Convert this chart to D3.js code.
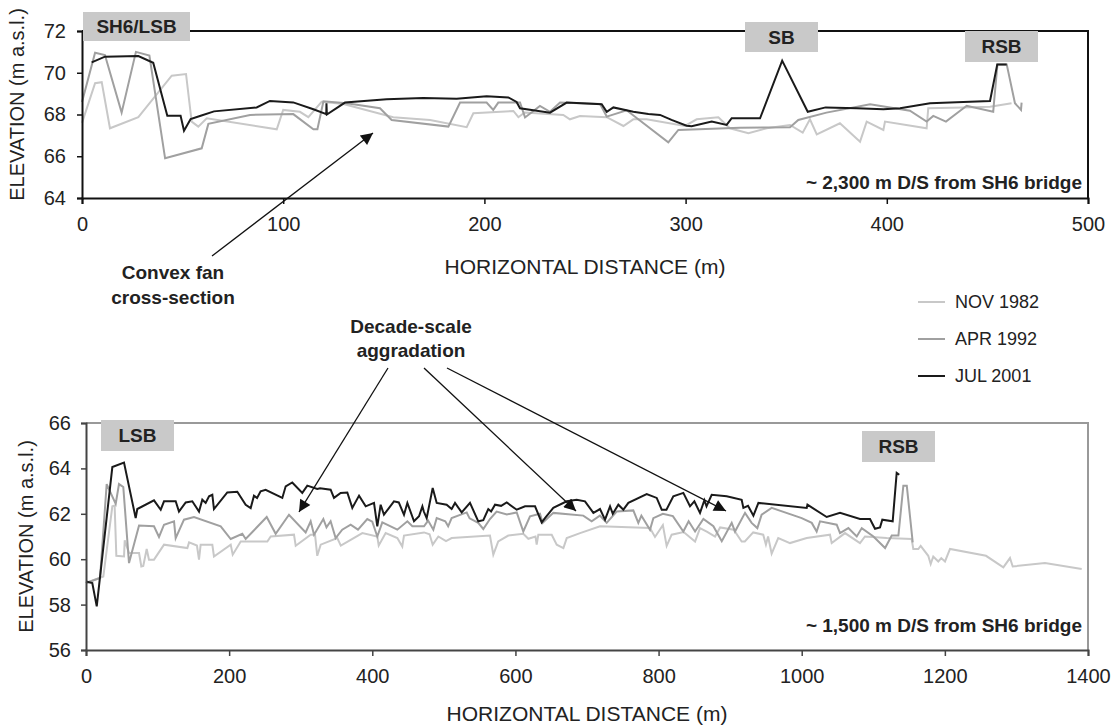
<!DOCTYPE html>
<html><head><meta charset="utf-8">
<script src="https://cdn.jsdelivr.net/npm/d3@7"></script>
<style>body{margin:0;background:#fff}svg{display:block}text{font-family:"Liberation Sans",Arial,sans-serif}</style>
</head><body><svg id="c" width="1116" height="727"></svg>
<script>
// ---------- DATA ----------
const seriesNames = ["NOV 1982", "APR 1992", "JUL 2001"];
const topXTicks = [0, 100, 200, 300, 400, 500];
const topYTicks = [64, 66, 68, 70, 72];
const botXTicks = [0, 200, 400, 600, 800, 1000, 1200, 1400];
const botYTicks = [56, 58, 60, 62, 64, 66];

// ~2,300 m D/S section: [distance m, elevation m]
const topNov = [[0,67.6],[6.5,69.5],[9.8,69.55],[13.9,67.34],[28,67.87],[44.6,69.86],[51.7,69.94],[54.5,67.66],[57.8,67.42],[62,67.82],[96.8,67.29],[100,68.22],[108.3,68.13],[112.5,67.87],[119.1,68.61],[129.9,68.5],[154.7,67.87],[173,67.74],[191.2,67.39],[194.5,68.06],[214.4,68.17],[216.9,67.87],[220,68.1],[239.2,67.98],[242.5,67.77],[247.5,67.93],[260.8,67.87],[269.1,67.45],[274,67.77],[280.6,67.77],[299.7,67.45],[305.5,67.77],[316.3,67.87],[322,67.34],[331.2,67.1],[340.3,67.34],[351.9,67.5],[358.2,67.13],[361.8,67.77],[365.2,67.05],[376.7,67.58],[386.7,66.7],[390,67.66],[398.3,67.26],[399.1,67.66],[419.8,67.34],[420.6,68.3],[438,68.33],[451.3,68.37],[462,68.54]];
const topApr = [[0,68.6],[6.5,70.96],[11.4,70.85],[19.7,68.09],[26.8,71.0],[33.5,70.82],[41.3,65.9],[59.5,66.38],[62.8,67.55],[83.5,67.98],[105,68.02],[115,67.29],[117,67.29],[120,68.63],[131.6,68.54],[148.1,68.3],[153.9,67.74],[182.1,67.42],[187.9,68.57],[201.1,68.57],[204.4,68.22],[206.9,68.57],[217.7,68.57],[220.2,67.86],[227.6,68.41],[232.6,68.13],[237.6,68.57],[257.5,68.5],[260.8,67.9],[270.7,68.2],[291.4,66.67],[296.4,67.26],[327,67.37],[351.9,67.39],[356,67.74],[370,68.09],[391.7,68.49],[411.5,68.18],[419.8,67.66],[423.1,67.93],[429.4,67.66],[439.7,68.42],[452.9,68.13],[453.3,68.6],[455,70.4],[459.6,70.4],[463.7,68.54],[466.7,68.22],[467,68.57]];
const topJul = [[4.8,70.5],[11.4,70.77],[28,70.8],[35.4,70.48],[42.4,67.94],[49,67.94],[50.7,67.22],[54,67.78],[58.6,67.93],[65.6,68.15],[86.8,68.34],[93.4,68.65],[105,68.58],[115,68.25],[121.4,68.02],[121.5,68.54],[121.7,68.0],[130.7,68.57],[151.4,68.73],[169.6,68.79],[186.2,68.76],[201.1,68.87],[211.9,68.82],[216,68.6],[217.7,68.3],[223.5,68.22],[232.6,68.09],[240.9,68.57],[258.3,68.49],[260.8,68.13],[264.1,68.34],[274,68.13],[281.5,68.02],[287.3,67.98],[293,67.74],[300.5,67.46],[303,67.44],[313,67.66],[320.4,67.5],[322.9,67.82],[337,67.82],[348,70.58],[360.7,68.13],[369.6,68.34],[385,68.3],[398.3,68.25],[406.6,68.3],[421.5,68.54],[438,68.6],[451.3,68.65],[454.9,70.4],[459.6,70.4]];

// ~1,500 m D/S section
const botNov = [[0,58.95],[24.2,59.24],[36.8,62.33],[40,62.36],[42.4,60.15],[53.1,60.12],[54.1,60.83],[60.1,60.27],[74.1,60.27],[77.3,59.68],[80,59.7],[84.8,60.45],[88,59.98],[95,59.98],[109,60.64],[141.6,60.49],[144,60.74],[155,60.6],[157.9,59.98],[160.2,60.64],[176.5,60.64],[178.8,60.12],[202.2,60.64],[205,60.2],[216.2,60.78],[253.4,60.78],[258.1,61],[290.6,61.08],[293,60.59],[313.9,61.08],[320,61.08],[323.1,60.15],[327.9,60.64],[351.1,60.93],[356,60.6],[386.1,61.15],[407,61],[409,60.6],[418.7,61.15],[435,60.93],[441.9,60.56],[444.3,61.04],[472.3,61.18],[480,61.1],[484.4,60.64],[492.3,61],[503,60.8],[510.9,60.93],[564.4,61.04],[569.1,60.2],[576,60.78],[590,61.04],[611,61.12],[618,60.9],[628,61.0],[629.7,60.64],[632,61.08],[650.7,61.08],[657.7,60.64],[667,60.49],[671.7,60.93],[690.3,61.15],[718.2,61.45],[788,61.37],[795,60.98],[806,61.5],[811.3,60.59],[818.3,61.08],[835,61.2],[851,60.78],[857.9,61.37],[868,61.2],[878.9,61],[886,61.4],[905,61.3],[916.1,60.78],[920.5,60.78],[932.2,61.18],[946.2,61.08],[950,60.64],[953,61.0],[958,60.24],[967.2,60.93],[983.6,60.71],[1007,60.93],[1039.5,61.08],[1041.9,60.71],[1060.5,61.15],[1081.4,60.71],[1088.4,61],[1118.7,60.93],[1153.6,60.89],[1155.9,60.45],[1162.9,60.45],[1166.2,60.59],[1176.8,60.15],[1180.2,59.79],[1183.8,60.12],[1190.8,59.9],[1195,60.05],[1200.2,59.9],[1207.2,60.45],[1257.5,60.15],[1281.7,59.64],[1291,60.05],[1294.8,59.68],[1339.9,59.83],[1391.2,59.57]];
const botApr = [[0,58.95],[19.6,59.17],[28.9,63.31],[41.5,62.44],[46.1,63.31],[52.1,63.18],[60.1,59.83],[74.1,61.48],[95,61.45],[102,60.98],[109,61.52],[123,61.67],[125.3,60.93],[136.9,61.74],[150.9,61.86],[188.2,61.45],[202.2,60.89],[218.4,61.12],[223.1,60.89],[252.5,61.86],[265,61.12],[283.6,61.96],[306.9,61.18],[313.9,61.67],[318.6,61.08],[331.6,61.77],[336,61.4],[341.8,61.67],[348.8,60.93],[358,61.3],[369.8,61.52],[380,61.3],[393,61.77],[400,61.65],[407,61],[414,61.62],[435,61.3],[449,61.67],[456,61.45],[472.3,61.45],[478,61.7],[485.3,61.3],[490,61.81],[502,61.67],[506,61.45],[510.9,61.81],[531.9,62.06],[536,61.8],[548,61.6],[555.1,61.33],[564.4,61.77],[573.7,62.1],[588,61.97],[601.8,62.06],[611,61.22],[620.4,61.89],[634.3,62],[638,61.6],[652.9,62.04],[694.8,61.92],[706.5,61.67],[718,61.92],[727.5,61.6],[741.4,62.1],[764.7,62.15],[771.7,61.6],[776,61.92],[788,61.3],[792.7,61.81],[806,62.0],[820,61.9],[834.6,61.22],[842,61.67],[851,61.22],[862.6,61.77],[876.6,61.45],[888.3,60.79],[902.2,61.6],[906.8,61.22],[920.8,62.04],[930,61.6],[938,61.37],[944,61.96],[958,62.26],[1000,61.81],[1014,61.6],[1020.9,61.22],[1025.6,61.67],[1048.9,61.52],[1053.5,61.15],[1065.2,61.37],[1076.9,61],[1083.9,61.37],[1100.2,61],[1116.5,60.49],[1125.8,61.04],[1135.1,61.04],[1142,63.24],[1146.8,63.24],[1155.1,60.74]];
const botJul = [[0,59.02],[8.8,58.95],[15,57.92],[36.8,64.06],[53.1,64.26],[69.4,61.81],[71.7,62.21],[95,62.59],[104.4,62.18],[109,62.55],[125.3,62.55],[129.9,62.1],[139.3,62.5],[148.5,62.55],[157.9,62.1],[162.5,62.62],[167.2,62.48],[171.9,62.77],[176.5,62.84],[178.8,62.21],[197.4,62.94],[211.4,62.97],[223.1,62.4],[230.1,62.25],[234.7,62.8],[239,62.7],[244,62.99],[251,63.06],[274.3,62.7],[279,63.21],[288.2,63.38],[302.2,62.92],[309.2,63.24],[323.1,63.09],[327,63.12],[341.8,63.06],[346.5,62.7],[355.8,62.92],[365.1,62.94],[372.1,62.26],[381.5,62.8],[390.8,62.33],[402.4,62.48],[407,61.45],[411.7,62.4],[416.3,61.96],[430.3,62.55],[437,62.5],[444.3,61.96],[449,62.48],[458.3,61.67],[465.3,61.89],[470,62.33],[472,62.1],[476,61.81],[484.4,63.14],[490,62.48],[503.9,62.4],[510.9,62.21],[515.6,62.48],[524.9,62.06],[536.5,62.48],[548.1,61.67],[555.1,61.72],[562.1,62.21],[566,62.1],[571.5,62.4],[580,62.35],[587.8,62.5],[601.8,62.18],[613.4,62.33],[627.4,62.33],[636.7,61.62],[641,61.8],[652.9,62.26],[671.7,62.55],[685.6,62.62],[697.2,62.55],[708.9,62.04],[718.2,62.21],[725.2,61.74],[732.2,62.33],[736,62.0],[743.8,62.4],[750.8,62.18],[757.8,62.48],[783.4,62.87],[797.4,62.7],[804.4,62.18],[811,62.18],[820.6,62.77],[834.6,62.92],[843.9,62.33],[850,62.55],[857.9,62.04],[864,62.6],[867,62.33],[874.2,62.84],[895.2,62.77],[916.1,62.62],[918.5,62.26],[925,62.35],[932.5,61.92],[939.5,62.48],[1007,62.26],[1008,62.4],[1034.9,61.86],[1053.5,62.04],[1081.4,61.77],[1095.4,61.77],[1102.4,61.34],[1109.4,61.4],[1112.6,61.74],[1127.1,61.67],[1132.7,63.8],[1136.3,63.72]];

// ---------- STYLE ----------
const colors = ["#c8c8c8", "#a0a0a0", "#1a1a1a"];
const svg = d3.select("#c");
svg.append("rect").attr("width",1116).attr("height",727).attr("fill","#fff");

function panel(cfg){
  const x = d3.scaleLinear().domain(cfg.xd).range([cfg.l, cfg.r]);
  const y = d3.scaleLinear().domain(cfg.yd).range([cfg.b, cfg.t]);
  const g = svg.append("g");
  g.append("path").attr("d",`M${cfg.l},${cfg.t}H${cfg.r}V${cfg.b}`)
    .attr("fill","none").attr("stroke",cfg.frame).attr("stroke-width",2);
  const lineGen = d3.line().x(d=>x(d[0])).y(d=>y(d[1]));
  cfg.series.forEach((s,i)=>{
    g.append("path").datum(s).attr("d",lineGen).attr("fill","none")
      .attr("stroke",colors[i]).attr("stroke-width",2).attr("stroke-linejoin","miter");
  });
  const xa = g.append("g").attr("transform",`translate(0,${cfg.b})`)
    .call(d3.axisBottom(x).tickValues(cfg.xt).tickSize(6).tickPadding(cfg.xpad).tickFormat(d3.format("d")));
  const ya = g.append("g").attr("transform",`translate(${cfg.l},0)`)
    .call(d3.axisLeft(y).tickValues(cfg.yt).tickSize(5).tickPadding(cfg.ypad).tickFormat(d3.format("d")));
  [xa,ya].forEach(a=>{
    a.select(".domain").attr("stroke",cfg.axis).attr("stroke-width",2);
    a.selectAll(".tick line").attr("stroke",cfg.axis).attr("stroke-width",1.5);
    a.selectAll(".tick text").attr("font-size",20).attr("fill","#222")
      .attr("font-family",'"Liberation Sans",Arial,sans-serif');
  });
  g.append("text").attr("x",(cfg.l+cfg.r)/2+(cfg.xtx||0)).attr("y",cfg.xty).attr("text-anchor","middle")
    .attr("font-size",21).attr("fill","#222").text("HORIZONTAL DISTANCE (m)");
  g.append("text").attr("transform",`translate(${cfg.ytx},${(cfg.t+cfg.b)/2+(cfg.yoff||0)}) rotate(-90)`)
    .attr("text-anchor","middle").attr("dominant-baseline","central")
    .attr("font-size",20).attr("fill","#222").text("ELEVATION (m a.s.l.)");
  return {x,y,g};
}

const P1 = panel({xd:[0,500], yd:[64,72], l:82, r:1088, t:31, b:198,
  xt:topXTicks, yt:topYTicks, series:[topNov,topApr,topJul], frame:"#111", axis:"#111",
  xpad:13, ypad:11, xty:274, ytx:17, yoff:-10});
const P2 = panel({xd:[0,1400], yd:[56,66], l:86, r:1088, t:423, b:650,
  xt:botXTicks, yt:botYTicks, series:[botNov,botApr,botJul], frame:"#999", axis:"#444",
  xpad:13, ypad:10, xty:721, ytx:26, yoff:0});

function box(x0,y0,x1,y1,label){
  svg.append("rect").attr("x",x0).attr("y",y0).attr("width",x1-x0).attr("height",y1-y0).attr("fill","#c9c9c9");
  svg.append("text").attr("x",(x0+x1)/2).attr("y",(y0+y1)/2).attr("text-anchor","middle")
    .attr("dominant-baseline","central").attr("font-size",19).attr("font-weight","bold").attr("fill","#222").text(label);
}
box(83,12,190,41,"SH6/LSB");
box(745,22,818,52,"SB");
box(965,31,1038,62,"RSB");
box(101,420,174,451,"LSB");
box(862,431,935,462,"RSB");

function bold(x,y,t,anchor){
  svg.append("text").attr("x",x).attr("y",y).attr("text-anchor",anchor||"middle")
    .attr("font-size",19).attr("font-weight","bold").attr("fill","#222").text(t);
}
bold(1082,189,"~ 2,300 m D/S from SH6 bridge","end");
bold(1082,632,"~ 1,500 m D/S from SH6 bridge","end");
bold(173,279,"Convex fan");
bold(173,304,"cross-section");
bold(411,333,"Decade-scale");
bold(411,357,"aggradation");

const defs = svg.append("defs");
defs.append("marker").attr("id","ah").attr("viewBox","0 0 10 10").attr("refX",10).attr("refY",5)
  .attr("markerWidth",16).attr("markerHeight",12).attr("markerUnits","userSpaceOnUse").attr("orient","auto")
  .append("path").attr("d","M0,0L10,5L0,10Z").attr("fill","#111");
function arrow(x1,y1,x2,y2){
  svg.append("line").attr("x1",x1).attr("y1",y1).attr("x2",x2).attr("y2",y2)
    .attr("stroke","#111").attr("stroke-width",1.3).attr("marker-end","url(#ah)");
}
arrow(212,256,373,133);
arrow(388,368,299,512);
arrow(424,368,576,511);
arrow(447,368,726,511);

const leg = svg.append("g");
seriesNames.forEach((n,i)=>{
  const yy = 302 + i*37;
  leg.append("line").attr("x1",918).attr("x2",945).attr("y1",yy).attr("y2",yy).attr("stroke",colors[i]).attr("stroke-width",2);
  leg.append("text").attr("x",955).attr("y",yy).attr("dominant-baseline","central").attr("font-size",18).attr("fill","#222").text(n);
});
</script></body></html>
